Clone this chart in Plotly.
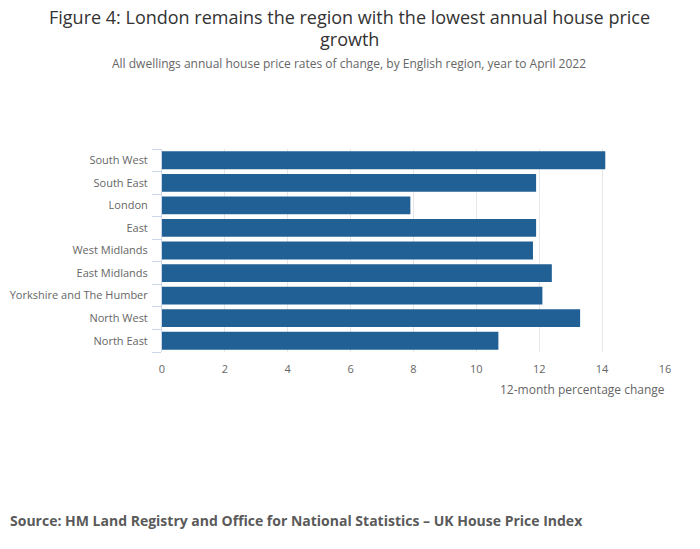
import plotly.graph_objects as go

# regions listed bottom to top (plotly draws first category at the bottom)
regions = ['North East', 'North West', 'Yorkshire and The Humber', 'East Midlands',
           'West Midlands', 'East', 'London', 'South East', 'South West']
annual_change = [10.7, 13.3, 12.1, 12.4, 11.8, 11.9, 7.9, 11.9, 14.1]
x_ticks = [0, 2, 4, 6, 8, 10, 12, 14, 16]
title_lines = ['Figure 4: London remains the region with the lowest annual house price', 'growth']

FONT = 'Open Sans'
# the page body adds about 8px of offset, so the margins are compensated
L, R, T, B = 154, 43, 141, 205
PLOT_W = 700 - L - R

fig = go.Figure()

fig.add_trace(
    go.Bar(
        x=annual_change,
        y=regions,
        orientation='h',
        marker=dict(color='#206095', line=dict(width=0)),
        hovertemplate='%{y}: %{x:.1f}%<extra></extra>'
    )
)

fig.update_layout(
    width=700,
    height=549,
    margin=dict(l=L, r=R, t=T, b=B, autoexpand=False),
    plot_bgcolor='white',
    paper_bgcolor='white',
    bargap=0.21,
    showlegend=False,
    font=dict(family=FONT, color='#666666', size=11)
)

fig.update_xaxes(
    range=[0, 16],
    tickvals=x_ticks,
    showgrid=True,
    gridcolor='#e6e6e6',
    gridwidth=1,
    zeroline=False,
    showline=False,
    ticks='outside',
    ticklen=7,
    tickcolor='rgba(0,0,0,0)',
    tickfont=dict(size=11, color='#666666'),
    automargin=False,
    fixedrange=True
)

fig.update_yaxes(
    showline=True,
    linecolor='#ccd6eb',
    linewidth=1,
    ticks='outside',
    tickson='boundaries',
    ticklen=9,
    tickcolor='#ccd6eb',
    ticklabelstandoff=11,
    tickfont=dict(size=11, color='#666666'),
    showgrid=False,
    automargin=False,
    fixedrange=True
)

page_center = (341 - L) / PLOT_W

# title, one annotation per line
for line, shift in zip(title_lines, [132, 110]):
    fig.add_annotation(
        text=line,
        xref='paper', yref='paper',
        x=page_center, y=1.0, yshift=shift,
        xanchor='center', yanchor='middle',
        showarrow=False,
        font=dict(family=FONT, size=18, color='#333333')
    )

# subtitle
fig.add_annotation(
    text='All dwellings annual house price rates of change, by English region, year to April 2022',
    xref='paper', yref='paper',
    x=page_center, y=1.0, yshift=86,
    xanchor='center', yanchor='middle',
    showarrow=False,
    font=dict(family=FONT, size=12, color='#666666')
)

# x axis title, right aligned under the tick labels
fig.add_annotation(
    text='12-month percentage change',
    xref='paper', yref='paper',
    x=1.0, y=0, xshift=2, yshift=-37,
    xanchor='right', yanchor='middle',
    showarrow=False,
    font=dict(family=FONT, size=12, color='#666666')
)

# source note
fig.add_annotation(
    text='<b>Source: HM Land Registry and Office for National Statistics – UK House Price Index</b>',
    xref='paper', yref='paper',
    x=-L / PLOT_W, y=0, xshift=0, yshift=-168,
    xanchor='left', yanchor='middle',
    showarrow=False,
    font=dict(family=FONT, size=14, color='#5a5a5a')
)

fig.write_html('out.html')
